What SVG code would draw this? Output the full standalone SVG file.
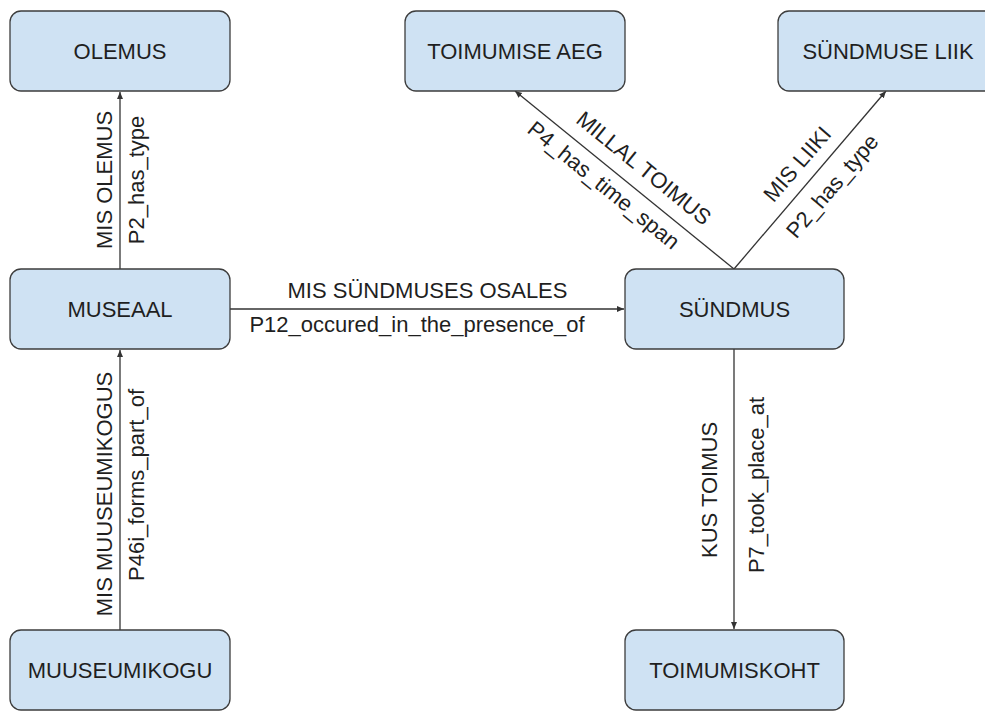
<svg xmlns="http://www.w3.org/2000/svg" width="985" height="713" viewBox="0 0 985 713">
<style>
.box rect{fill:#cfe2f3;stroke:#3d3d3d;stroke-width:1.3}
.box text{font-family:"Liberation Sans",Arial,sans-serif;font-size:22px;fill:#1f1f1f;text-anchor:middle}
.edge line{stroke:#333;stroke-width:1.3;fill:none}
.lbl{font-family:"Liberation Sans",Arial,sans-serif;font-size:22px;fill:#1f1f1f;text-anchor:middle}
</style>
<defs>
<marker id="arr" markerUnits="userSpaceOnUse" markerWidth="10" markerHeight="10" refX="7" refY="3" orient="auto">
<path d="M0,0 L7,3 L0,6 z" fill="#333"/>
</marker>
</defs>
<rect width="985" height="713" fill="#fff"/>
<g id="edges" class="edge">
<line x1="120" y1="269" x2="120" y2="92" marker-end="url(#arr)"/>
<line x1="120" y1="630" x2="120" y2="350" marker-end="url(#arr)"/>
<line x1="230" y1="309" x2="624" y2="309" marker-end="url(#arr)"/>
<line x1="734" y1="349" x2="734" y2="629" marker-end="url(#arr)"/>
<line x1="734" y1="269" x2="515" y2="91" marker-end="url(#arr)"/>
<line x1="734" y1="269" x2="886" y2="91" marker-end="url(#arr)"/>
<text class="lbl" transform="translate(112,180) rotate(-90)">MIS OLEMUS</text>
<text class="lbl" transform="translate(144,180) rotate(-90)">P2_has_type</text>
<text class="lbl" transform="translate(112,494) rotate(-90)">MIS MUUSEUMIKOGUS</text>
<text class="lbl" transform="translate(144,485) rotate(-90)">P46i_forms_part_of</text>
<text class="lbl" x="427.5" y="298">MIS SÜNDMUSES OSALES</text>
<text class="lbl" x="417" y="332">P12_occured_in_the_presence_of</text>
<text class="lbl" transform="translate(717,490) rotate(-90)">KUS TOIMUS</text>
<text class="lbl" transform="translate(764,485) rotate(-90)">P7_took_place_at</text>
<text class="lbl" transform="translate(639,174) rotate(39.1)">MILLAL TOIMUS</text>
<text class="lbl" transform="translate(599,191) rotate(39.1)">P4_has_time_span</text>
<text class="lbl" transform="translate(803,169) rotate(-49.5)">MIS LIIKI</text>
<text class="lbl" transform="translate(838,191) rotate(-49.5)">P2_has_type</text>
</g>
<g id="olemus" class="box"><rect x="10" y="11" width="220" height="80" rx="11"/><text x="120" y="59">OLEMUS</text></g>
<g id="toimumise-aeg" class="box"><rect x="405" y="11" width="220" height="80" rx="11"/><text x="515" y="59">TOIMUMISE AEG</text></g>
<g id="sundmuse-liik" class="box"><rect x="778" y="11" width="220" height="80" rx="11"/><text x="888" y="59">SÜNDMUSE LIIK</text></g>
<g id="museaal" class="box"><rect x="10" y="269" width="220" height="80" rx="11"/><text x="120" y="317">MUSEAAL</text></g>
<g id="sundmus" class="box"><rect x="625" y="269" width="219" height="80" rx="11"/><text x="734.5" y="317">SÜNDMUS</text></g>
<g id="muuseumikogu" class="box"><rect x="10" y="630" width="220" height="80" rx="11"/><text x="120" y="678">MUUSEUMIKOGU</text></g>
<g id="toimumiskoht" class="box"><rect x="625" y="630" width="219" height="80" rx="11"/><text x="734.5" y="678">TOIMUMISKOHT</text></g>
</svg>
